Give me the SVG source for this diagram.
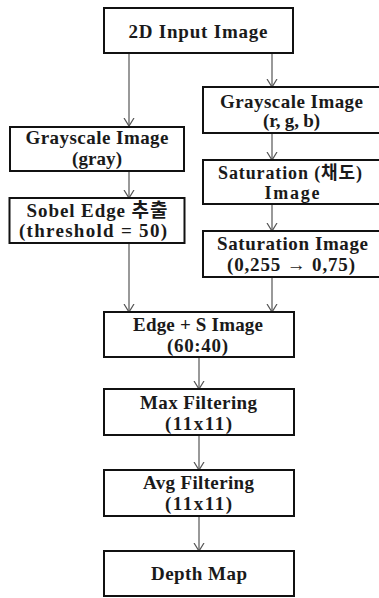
<svg xmlns="http://www.w3.org/2000/svg" width="379" height="598" viewBox="0 0 379 598">
<style>
.box{fill:#fff;stroke:#111;stroke-width:2}
.t{font-family:"Liberation Serif","Noto Sans CJK KR",serif;font-weight:bold;font-size:19px;fill:#1a1a1a;text-anchor:middle}
.s{font-size:18px}
.c{stroke:#555;stroke-width:1.2;fill:none}
</style>
<defs>
<marker id="ah" markerUnits="userSpaceOnUse" markerWidth="10" markerHeight="12" refX="8" refY="6" orient="auto" viewBox="0 0 10 12">
<path d="M0,1 L8,6 L0,11" fill="none" stroke="#555" stroke-width="1.2"/>
</marker>
</defs>
<rect width="379" height="598" fill="#fff"/>
<g id="connectors">
<line class="c" x1="129" y1="53" x2="129" y2="126" marker-end="url(#ah)"/>
<line class="c" x1="272" y1="53" x2="272" y2="87" marker-end="url(#ah)"/>
<line class="c" x1="129" y1="171" x2="129" y2="198" marker-end="url(#ah)"/>
<line class="c" x1="272" y1="133" x2="272" y2="160" marker-end="url(#ah)"/>
<line class="c" x1="272" y1="204" x2="272" y2="231" marker-end="url(#ah)"/>
<line class="c" x1="129" y1="243" x2="129" y2="312" marker-end="url(#ah)"/>
<line class="c" x1="272" y1="277" x2="272" y2="312" marker-end="url(#ah)"/>
<line class="c" x1="199" y1="357" x2="199" y2="389" marker-end="url(#ah)"/>
<line class="c" x1="199" y1="435" x2="199" y2="470" marker-end="url(#ah)"/>
<line class="c" x1="199" y1="516" x2="199" y2="551" marker-end="url(#ah)"/>
</g>
<g id="input">
<rect class="box" x="104" y="8" width="189" height="45"/>
<text class="t" x="198" y="38" textLength="139" lengthAdjust="spacing">2D Input Image</text>
</g>
<g id="grayscale-gray">
<rect class="box" x="10" y="127" width="174" height="44"/>
<text class="t" x="97" y="144" textLength="143" lengthAdjust="spacing">Grayscale Image</text>
<text class="t" x="97" y="165" textLength="50" lengthAdjust="spacing">(gray)</text>
</g>
<g id="sobel">
<rect class="box" x="9.5" y="198" width="175" height="45"/>
<text class="t" x="97" y="217" textLength="141" lengthAdjust="spacing">Sobel  Edge 추출</text>
<text class="t" x="93" y="237" textLength="148" lengthAdjust="spacing">(threshold = 50)</text>
</g>
<g id="grayscale-rgb">
<rect class="box" x="203" y="87" width="178" height="46"/>
<text class="t" x="291.5" y="108" textLength="143" lengthAdjust="spacing">Grayscale Image</text>
<text class="t" x="291.5" y="127" textLength="57" lengthAdjust="spacing">(r, g, b)</text>
</g>
<g id="saturation">
<rect class="box" x="203" y="160" width="178" height="44"/>
<text class="t s" x="290" y="178.5" textLength="144" lengthAdjust="spacing">Saturation (채도)</text>
<text class="t s" x="292" y="199" textLength="55" lengthAdjust="spacing">Image</text>
</g>
<g id="saturation-scaled">
<rect class="box" x="203" y="231" width="178" height="46"/>
<text class="t" x="292.5" y="250" textLength="151" lengthAdjust="spacing">Saturation Image</text>
<text class="t" x="291" y="271" textLength="128" lengthAdjust="spacing">(0,255 → 0,75)</text>
</g>
<g id="edge-s">
<rect class="box" x="104" y="312" width="190" height="45"/>
<text class="t" x="198" y="331" textLength="130" lengthAdjust="spacing">Edge + S Image</text>
<text class="t" x="197.5" y="352" textLength="61" lengthAdjust="spacing">(60:40)</text>
</g>
<g id="max-filter">
<rect class="box" x="104" y="389" width="190" height="46"/>
<text class="t" x="198.5" y="409" textLength="117" lengthAdjust="spacing">Max Filtering</text>
<text class="t" x="198.5" y="430" textLength="67" lengthAdjust="spacing">(11x11)</text>
</g>
<g id="avg-filter">
<rect class="box" x="104" y="470" width="190" height="46"/>
<text class="t" x="198.5" y="489" textLength="111" lengthAdjust="spacing">Avg Filtering</text>
<text class="t" x="198.5" y="510" textLength="67" lengthAdjust="spacing">(11x11)</text>
</g>
<g id="depth-map">
<rect class="box" x="104" y="551" width="190" height="45"/>
<text class="t" x="199" y="580" textLength="96" lengthAdjust="spacing">Depth  Map</text>
</g>
</svg>
